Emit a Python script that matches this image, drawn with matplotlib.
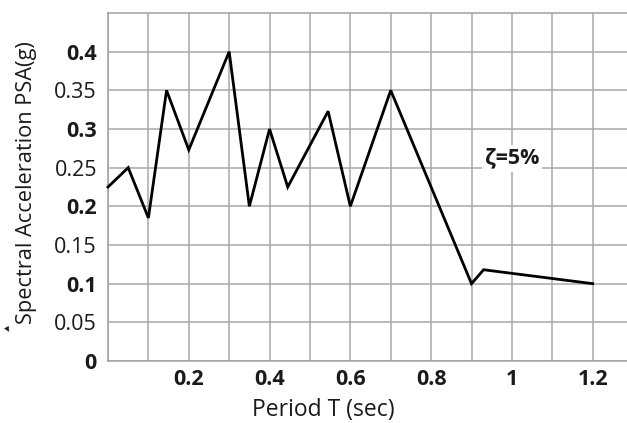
import matplotlib
matplotlib.use("Agg")
import matplotlib.pyplot as plt
import numpy as np

period = [0, 0.05, 0.1, 0.145, 0.2, 0.3, 0.35, 0.4, 0.445, 0.545, 0.6, 0.7, 0.9, 0.93, 1.2]
psa = [0.225, 0.25, 0.185, 0.35, 0.273, 0.4, 0.2, 0.3, 0.225, 0.323, 0.2, 0.35, 0.1, 0.118, 0.1]

y_ticks = [0, 0.05, 0.1, 0.15, 0.2, 0.25, 0.3, 0.35, 0.4]
y_labels = ["0", "0.05", "0.1", "0.15", "0.2", "0.25", "0.3", "0.35", "0.4"]
x_ticks = [0, 0.1, 0.2, 0.3, 0.4, 0.5, 0.6, 0.7, 0.8, 0.9, 1.0, 1.1, 1.2]
x_labels = ["", "", "0.2", "", "0.4", "", "0.6", "", "0.8", "", "1", "", "1.2"]

plt.rcParams['font.family'] = ['Open Sans', 'DejaVu Sans']

W, H = 627, 423
fig = plt.figure(figsize=(W / 100, H / 100), dpi=100)
left_px, right_px, bottom_px, top_px = 108, 627, 361, 13
ax = fig.add_axes([left_px / W, 1 - bottom_px / H, (right_px - left_px) / W, (bottom_px - top_px) / H])

ax.set_xlim(0, 1.285)
ax.set_ylim(0, 0.45)

ax.set_xticks(x_ticks)
ax.set_xticklabels(x_labels, fontsize=15.5, fontweight='bold', color='#1a1a1a')
ax.set_yticks(y_ticks)
ax.set_yticklabels(y_labels, fontsize=15.5, color='#1a1a1a')
for i, lab in enumerate(ax.get_yticklabels()):
    if i % 2 == 0:
        lab.set_fontweight('bold')
ax.tick_params(axis='both', length=0)
ax.tick_params(axis='y', pad=8)
ax.tick_params(axis='x', pad=6)

ax.grid(True, color='#a8a8a8', linewidth=1.1)
ax.set_axisbelow(True)
for side in ['left', 'bottom', 'top']:
    ax.spines[side].set_color('#a0a0a0')
    ax.spines[side].set_linewidth(1.1)
ax.spines['right'].set_visible(False)

ax.plot(period, psa, color='black', linewidth=2, solid_joinstyle='miter', clip_on=False, zorder=3)

ax.text(1.0, 0.262, "ζ=5%", fontsize=15.5, fontweight='bold', ha='center', va='center',
        color='#1a1a1a', bbox=dict(facecolor='white', edgecolor='none', pad=2), zorder=4)

fig.text(323 / W, 1 - 410 / H, "Period T (sec)", fontsize=16.5, ha='center', va='center', color='#1a1a1a')
fig.text(27 / W, 1 - 183 / H, "Spectral Acceleration PSA(g)", fontsize=15.7, rotation=90,
         ha='center', va='center', color='#1a1a1a')
fig.text(7 / W, 1 - 329 / H, "▸", fontsize=8, ha='center', va='center', rotation=-60,
         color='#1a1a1a', family=['DejaVu Sans'])

fig.savefig("out.png", dpi=100)
